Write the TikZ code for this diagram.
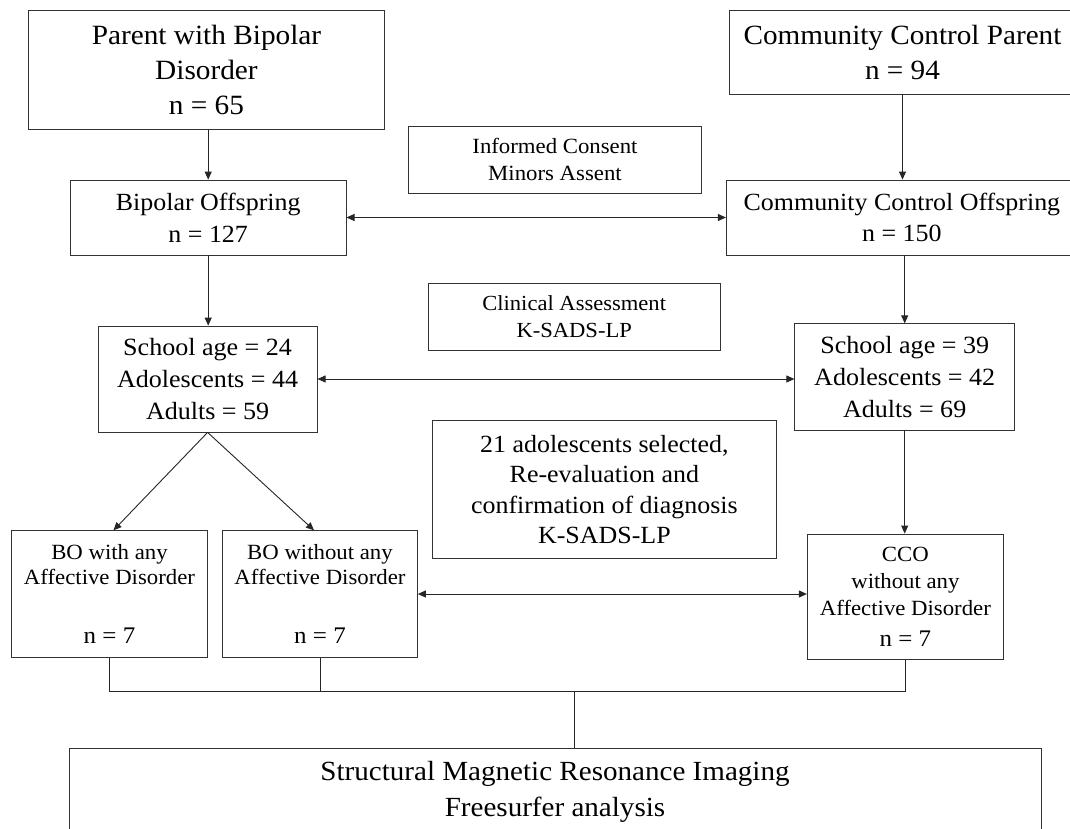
\documentclass[tikz,border=0pt]{standalone}
\usepackage{fontspec}
\setmainfont{Liberation Serif}[FakeStretch=1.05]
\usetikzlibrary{arrows.meta,calc}
\begin{document}
\begin{tikzpicture}[x=1pt,y=-1pt,
  box/.style={draw=black!80, line width=0.8pt, inner sep=0pt, align=center, anchor=center},
  ln/.style={draw=black!85, line width=0.9pt},
  arr/.style={ln, -{Triangle[length=8pt,width=7pt]}},
  dbl/.style={ln, {Triangle[length=8pt,width=7pt]}-{Triangle[length=8pt,width=7pt]}}]
\useasboundingbox (0,0) rectangle (1070,829);
\clip (0,0) rectangle (1070,829);
\fill[white] (0,0) rectangle (1070,829);
% top row
\node[box, minimum width=356.5pt, minimum height=119pt, font=\fontsize{27.9}{35}\selectfont]
  (p1) at (206.5,69.5) {Parent with Bipolar\\Disorder\\n = 65};
\node[box, minimum width=345.6pt, minimum height=84pt, font=\fontsize{27.8}{35}\selectfont]
  (p2) at (902.5,52) {Community Control Parent\\n = 94};
\node[box, minimum width=293.1pt, minimum height=67.3pt, font=\fontsize{21.7}{26.7}\selectfont]
  (ic) at (555,159.7) {Informed Consent\\Minors Assent};
% offspring
\node[box, minimum width=275.8pt, minimum height=75pt, font=\fontsize{24.7}{31.7}\selectfont]
  (bo) at (208.2,217.5) {Bipolar Offspring\\n = 127};
\node[box, minimum width=351.2pt, minimum height=75pt, font=\fontsize{24.7}{31.7}\selectfont]
  (cco) at (901.9,217.5) {Community Control Offspring\\n = 150};
\node[box, minimum width=292.4pt, minimum height=67pt, font=\fontsize{21.5}{26.7}\selectfont]
  (ca) at (574.2,316.8) {Clinical Assessment\\K-SADS-LP};
% age groups
\node[box, minimum width=219.1pt, minimum height=106pt, font=\fontsize{24.8}{31.7}\selectfont]
  (sbo) at (207.6,379) {School age = 24\\Adolescents = 44\\Adults = 59};
\node[box, minimum width=219.8pt, minimum height=106.3pt, font=\fontsize{24.8}{31.7}\selectfont]
  (scco) at (904.7,376.9) {School age = 39\\Adolescents = 42\\Adults = 69};
\node[box, minimum width=344.4pt, minimum height=137.6pt, font=\fontsize{24.7}{30.5}\selectfont]
  (sel) at (604.4,489.5) {21 adolescents selected,\\Re-evaluation and\\confirmation of diagnosis\\K-SADS-LP};
% subgroups
\node[box, minimum width=195.6pt, minimum height=126.6pt, font=\fontsize{21.7}{24.7}\selectfont]
  (bow) at (109.5,594) {BO with any\\Affective Disorder\\[34pt]{\fontsize{23.8}{24.7}\selectfont n = 7}};
\node[box, minimum width=194.9pt, minimum height=126.6pt, font=\fontsize{21.7}{24.7}\selectfont]
  (bowo) at (320,594) {BO without any\\Affective Disorder\\[34pt]{\fontsize{23.8}{24.7}\selectfont n = 7}};
\node[box, minimum width=196.3pt, minimum height=125.7pt, font=\fontsize{21.7}{27}\selectfont]
  (cco2) at (905.4,596.8) {CCO\\without any\\Affective Disorder\\[4pt]{\fontsize{23.8}{27}\selectfont n = 7}};
% MRI
\node[box, minimum width=972.1pt, minimum height=86.3pt, font=\fontsize{27.7}{36.7}\selectfont]
  (mri) at (555,791.9) {Structural Magnetic Resonance Imaging\\Freesurfer analysis};
% connectors
\draw[arr] (p1.south -| bo.north) -- (bo.north);
\draw[arr] (p2.south) -- (p2.south |- cco.north);
\draw[dbl] (bo.east) -- (bo.east -| cco.west);
\draw[arr] (bo.south) -- (bo.south |- sbo.north);
\draw[arr] (scco.north |- cco.south) -- (scco.north);
\draw[dbl] (sbo.east) -- (sbo.east -| scco.west);
\draw[arr] (scco.south) -- (scco.south |- cco2.north);
\draw[arr] (sbo.south) -- ($(bow.north)+(4,0)$);
\draw[arr] (sbo.south) -- ($(bowo.north)+(-6,0)$);
\draw[dbl] (bowo.east) -- (bowo.east -| cco2.west);
\coordinate (jb) at (574.8,691.7);
\draw[ln] (bow.south) -- (bow.south |- jb);
\draw[ln] (bowo.south) -- (bowo.south |- jb);
\draw[ln] (cco2.south) -- (cco2.south |- jb);
\draw[ln] (bow.south |- jb) -- (cco2.south |- jb);
\draw[ln] (jb) -- (jb |- mri.north);
\end{tikzpicture}
\end{document}
